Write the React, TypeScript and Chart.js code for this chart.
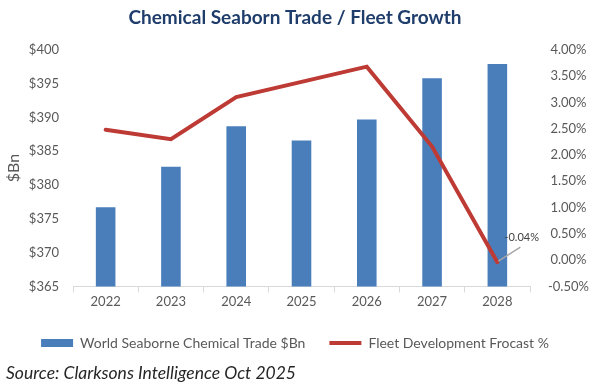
import React, { useEffect, useRef } from "react";
import { Chart, registerables } from "chart.js";

Chart.register(...registerables);

const categories = ["2022", "2023", "2024", "2025", "2026", "2027", "2028"];
const tradeValues = [376.7, 382.7, 388.7, 386.6, 389.7, 395.8, 397.9];
const fleetGrowth = [2.48, 2.3, 3.1, 3.39, 3.68, 2.16, -0.04];
const titleText = "Chemical Seaborn Trade / Fleet Growth";
const sourceText = "Source: Clarksons Intelligence Oct 2025";
const tradeLabel = "World Seaborne Chemical Trade $Bn";
const fleetLabel = "Fleet Development Frocast %";
const leftAxisTitle = "$Bn";
const annotatedIndex = 6;

const GRAY = "#595959";
const BLUE = "#4a7ebb";
const RED = "#be3a34";

const extrasPlugin = {
  id: "extras",
  afterDatasetsDraw(chart: any) {
    const meta = chart.getDatasetMeta(1);
    const pt = meta.data[annotatedIndex];
    if (!pt) return;
    const ctx = chart.ctx;
    const x = pt.x;
    const y = pt.y;
    ctx.save();
    ctx.strokeStyle = "#a6a6a6";
    ctx.lineWidth = 1.5;
    ctx.beginPath();
    ctx.moveTo(x + 1, y - 1);
    ctx.lineTo(x + 23, y - 15);
    ctx.stroke();
    ctx.font = "11px Lato";
    ctx.fillStyle = "#404040";
    ctx.textAlign = "left";
    ctx.textBaseline = "middle";
    const v = fleetGrowth[annotatedIndex];
    ctx.fillText(v.toFixed(2) + "%", x + 7, y - 25);
    ctx.restore();
  },
  afterDraw(chart: any) {
    const ctx = chart.ctx;
    ctx.save();
    ctx.font = "italic 17.5px Lato";
    ctx.fillStyle = "#262626";
    ctx.textAlign = "left";
    ctx.textBaseline = "middle";
    ctx.fillText(sourceText, 6, chart.height - 19);
    ctx.restore();
  },
};

export default function App() {
  const ref = useRef<HTMLCanvasElement | null>(null);
  useEffect(() => {
    if (!ref.current) return;
    const chart = new Chart(ref.current, {
      data: {
        labels: categories,
        datasets: [
          {
            type: "bar",
            label: tradeLabel,
            data: tradeValues,
            backgroundColor: BLUE,
            borderWidth: 0,
            yAxisID: "y",
            categoryPercentage: 1,
            barPercentage: 0.3,
            pointStyle: "rect",
            order: 2,
          },
          {
            type: "line",
            label: fleetLabel,
            data: fleetGrowth,
            borderColor: RED,
            backgroundColor: RED,
            borderWidth: 4,
            borderCapStyle: "round",
            pointRadius: 0,
            pointStyle: "line",
            tension: 0,
            yAxisID: "y1",
            order: 1,
          },
        ],
      } as any,
      options: {
        animation: false,
        responsive: false,
        maintainAspectRatio: false,
        layout: { padding: { top: 0, left: 0, right: 0, bottom: 32 } },
        plugins: {
          title: {
            display: true,
            text: titleText,
            color: "#1f3d6b",
            font: { family: "Lato", size: 19, weight: "bold" },
            padding: { top: 6, bottom: 21 },
          },
          legend: {
            display: true,
            position: "bottom",
            labels: {
              color: GRAY,
              font: { family: "Lato", size: 14 },
              usePointStyle: true,
              pointStyleWidth: 32,
              boxWidth: 32,
              boxHeight: 8,
              padding: 24,
              sort: (a: any, b: any) => a.datasetIndex - b.datasetIndex,
            },
          },
          tooltip: { enabled: false },
        },
        scales: {
          x: {
            grid: {
              display: true,
              drawOnChartArea: false,
              drawTicks: true,
              offset: true,
              tickLength: 6,
              color: "#d9d9d9",
            },
            border: { display: true, color: "#d9d9d9" },
            ticks: { color: GRAY, font: { family: "Lato", size: 13 }, padding: 2 },
          },
          y: {
            position: "left",
            min: 365,
            max: 400,
            afterFit: (s: any) => { s.width = 73; },
            ticks: {
              stepSize: 5,
              color: GRAY,
              font: { family: "Lato", size: 13 },
              callback: (v: any) => "$" + v,
              padding: 14,
            },
            grid: { display: false, drawTicks: false },
            border: { display: false },
            title: {
              display: true,
              text: leftAxisTitle,
              color: GRAY,
              font: { family: "Lato", size: 16 },
              padding: { top: 4, bottom: 0 },
            },
          },
          y1: {
            position: "right",
            min: -0.5,
            max: 4,
            afterFit: (s: any) => { s.width = 60; },
            ticks: {
              stepSize: 0.5,
              color: GRAY,
              font: { family: "Lato", size: 13 },
              callback: (v: any) => Number(v).toFixed(2) + "%",
              padding: 18,
              crossAlign: "center",
            },
            grid: { display: false, drawTicks: false },
            border: { display: false },
          },
        },
      } as any,
      plugins: [extrasPlugin],
    });
    return () => chart.destroy();
  }, []);
  return (
    <div style={{ position: "fixed", left: 0, top: 0, width: 590, height: 392, background: "#fff" }}>
      <canvas ref={ref} width={590} height={392} />
    </div>
  );
}
